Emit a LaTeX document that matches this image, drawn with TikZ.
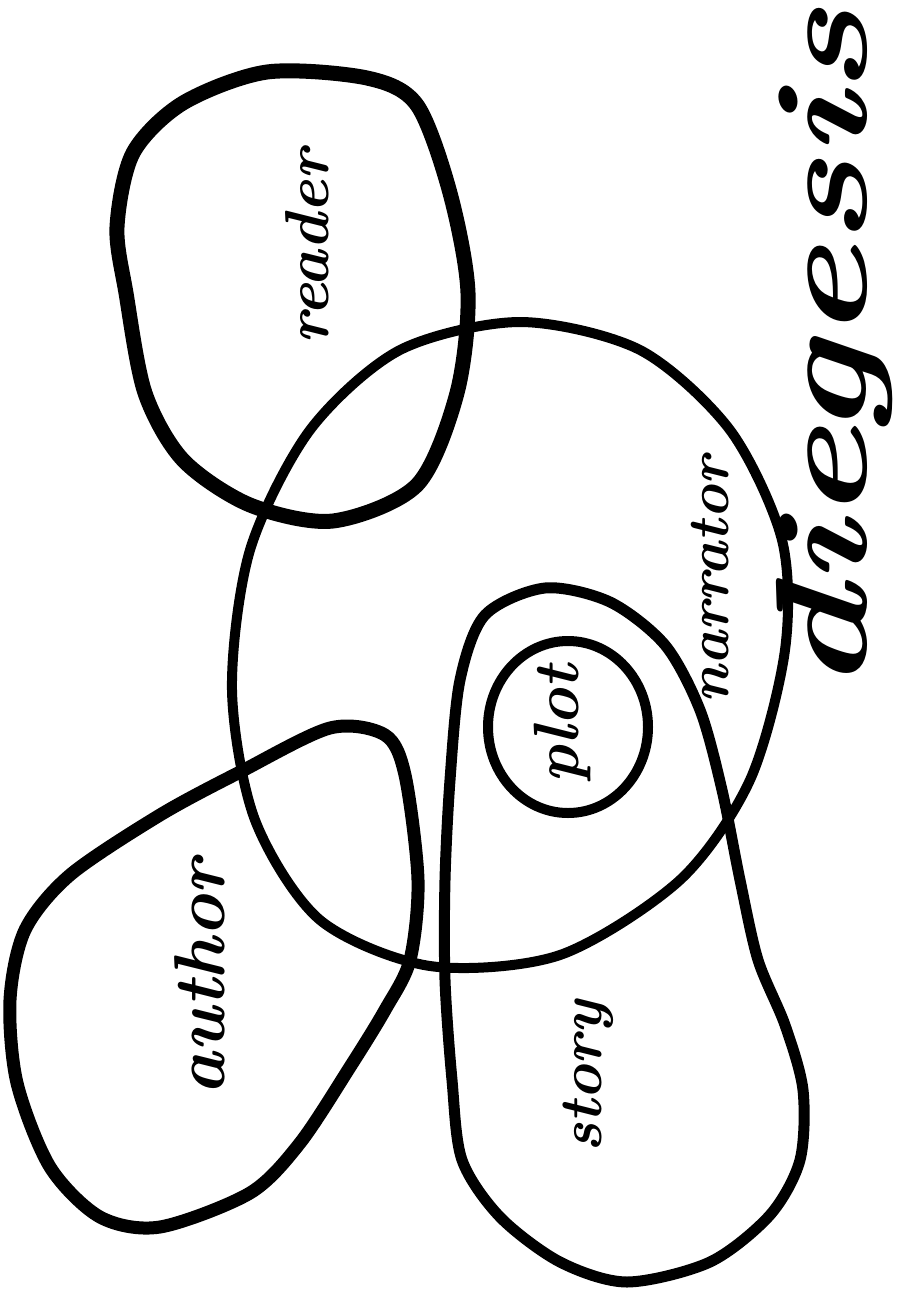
\documentclass[tikz,border=0pt]{standalone}
\usepackage{graphicx}
\usepackage{tikz}
\usetikzlibrary{positioning}

\tikzset{
  blob/.style={line width=12pt, line join=round},
  word/.style={rotate=90, inner sep=0pt, font=\bfseries\itshape},
}
\newcommand{\wsize}[1]{\fontsize{#1}{#1}\selectfont}

\begin{document}
\begin{tikzpicture}[x=1pt, y=-1pt]
  \useasboundingbox (0,0) rectangle (903,1293);
  % reader
  \draw[blob, line width=15pt] plot[smooth cycle] coordinates {(267,72) (367,78) (417,105) (450,193) (468,293) (457,393) (417,485) (333,521) (250,505) (183,460) (145,393) (126,293) (117,227) (133,153) (183,103)};
  \node[word] (reader) at (307,247) {\wsize{62}reader};
  % narrator circle
  \draw[blob, line width=10pt] plot[smooth cycle] coordinates {(520,322) (640,350) (730,430) (782,540) (785,650) (750,780) (680,880) (560,955) (430,966) (320,920) (255,820) (232,690) (250,550) (310,430) (400,350)};
  \node[word] (narrator) at (710,580) {\wsize{58}narrator};
  % author
  \draw[blob, line width=13pt] plot[smooth cycle] coordinates {(330,728) (385,735) (405,775) (418,880) (410,960) (385,1010) (350,1067) (300,1143) (250,1193) (160,1227) (100,1217) (50,1167) (17,1083) (10,1000) (25,930) (70,875) (160,815) (240,772)};
  \node[word] (author) at (200,977) {\wsize{72}author};
  % story
  \draw[blob, line width=11pt] plot[smooth cycle] coordinates {(545,588) (610,602) (665,645) (700,710) (722,790) (740,880) (758,960) (785,1025) (803,1090) (800,1160) (770,1215) (710,1262) (627,1282) (560,1262) (500,1217) (462,1160) (452,1080) (445,980) (445,880) (450,780) (460,680) (485,615)};
  \node[word] (story) at (588,1077) {\wsize{60}story};
  % plot
  \draw[blob, line width=10pt] (568,727) ellipse [x radius=80, y radius=86];
  \node[word] (plot) at (562,724) {\wsize{64}plot};
  % diegesis
  \node[word, anchor=base] (diegesis) at (866,350) {\wsize{130}\scalebox{1.38}[1]{diegesis}};
\end{tikzpicture}
\end{document}
